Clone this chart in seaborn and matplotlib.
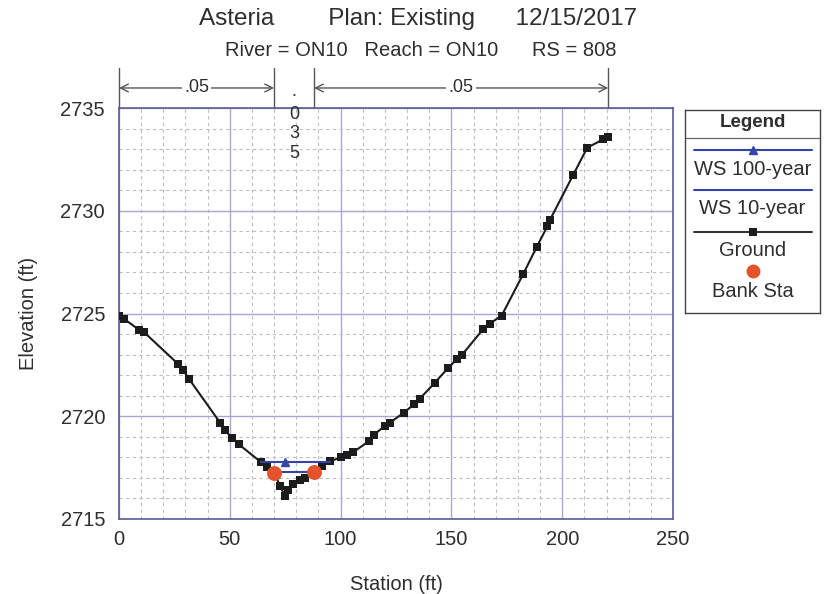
import matplotlib
matplotlib.use("Agg")
import matplotlib.pyplot as plt
import seaborn as sns
import pandas as pd
from matplotlib.ticker import MultipleLocator

# ---------------- data ----------------
title_parts = ["Asteria", "Plan: Existing", "12/15/2017"]
subtitle_parts = ["River = ON10", "Reach = ON10", "RS = 808"]

ground_station = [0.0, 2.3, 9.2, 11.3, 26.5, 29.0, 31.7, 45.6, 47.8, 50.8, 54.0,
                  63.9, 66.6, 70.0, 72.7, 74.8, 76.2, 78.4, 81.7, 84.0, 88.0,
                  91.5, 95.3, 100.3, 102.8, 105.5, 113.0, 115.0, 120.0, 122.3,
                  128.6, 133.1, 135.8, 142.6, 148.6, 152.4, 154.6, 164.4, 167.4,
                  172.7, 182.5, 188.5, 193.3, 194.5, 205.0, 211.3, 218.6, 220.8]
ground_elev = [2724.87, 2724.74, 2724.19, 2724.09, 2722.56, 2722.25, 2721.80,
               2719.69, 2719.33, 2718.96, 2718.64, 2717.78, 2717.55, 2717.23,
               2716.62, 2716.13, 2716.42, 2716.70, 2716.89, 2716.98, 2717.27,
               2717.59, 2717.80, 2718.02, 2718.12, 2718.24, 2718.80, 2719.10,
               2719.53, 2719.69, 2720.18, 2720.58, 2720.86, 2721.64, 2722.36,
               2722.77, 2722.96, 2724.25, 2724.51, 2724.90, 2726.94, 2728.24,
               2729.24, 2729.56, 2731.75, 2733.07, 2733.48, 2733.58]

bank_station = [70.0, 88.0]
bank_elev = [2717.23, 2717.27]

ws100_station = [64.0, 95.3]
ws100_elev = [2717.78, 2717.78]
ws100_marker_station = [75.0]

ws10_station = [69.8, 88.2]
ws10_elev = [2717.27, 2717.27]

roughness_breaks = [0.0, 70.0, 88.0, 220.8]
roughness_values = [".05", ".035", ".05"]

legend_labels = ["WS 100-year", "WS 10-year", "Ground", "Bank Sta"]

# ---------------- style ----------------
sns.set_theme(style="white")
plt.rcParams["font.family"] = ["Liberation Sans", "DejaVu Sans"]
TXT = "#2e2e2e"
WS_BLUE = "#3346a8"
BANK_RED = "#e4532c"
GROUND = "#1c1c1c"
SPINE = "#5c5c96"

fig = plt.figure(figsize=(8.26, 5.94), dpi=100)
ax = fig.add_axes([119 / 826, 1 - 519 / 594, (673 - 119) / 826, (519 - 108) / 594])

ground_df = pd.DataFrame({"station": ground_station, "elev": ground_elev})
bank_df = pd.DataFrame({"station": bank_station, "elev": bank_elev})
ws100_df = pd.DataFrame({"station": ws100_station, "elev": ws100_elev})
ws10_df = pd.DataFrame({"station": ws10_station, "elev": ws10_elev})

# water surfaces
sns.lineplot(data=ws100_df, x="station", y="elev", ax=ax, color=WS_BLUE,
             lw=1.5, zorder=4, estimator=None)
ax.plot(ws100_marker_station, [ws100_elev[0]], marker="^", ms=6,
        color=WS_BLUE, ls="none", zorder=5)
sns.lineplot(data=ws10_df, x="station", y="elev", ax=ax, color=WS_BLUE,
             lw=1.5, zorder=4, estimator=None)

# ground
sns.lineplot(data=ground_df, x="station", y="elev", ax=ax, color=GROUND,
             lw=1.5, marker="s", markersize=6, markeredgewidth=0,
             estimator=None, zorder=3)

# bank stations
sns.scatterplot(data=bank_df, x="station", y="elev", ax=ax, color=BANK_RED,
                s=115, linewidth=0, zorder=6)

# axes
ax.set_xlim(0, 250)
ax.set_ylim(2715, 2735)
ax.xaxis.set_major_locator(MultipleLocator(50))
ax.xaxis.set_minor_locator(MultipleLocator(10))
ax.yaxis.set_major_locator(MultipleLocator(5))
ax.yaxis.set_minor_locator(MultipleLocator(1))
ax.grid(which="major", color="#a7a7d2", lw=1.0, ls="-")
ax.grid(which="minor", color="#bdbdbd", lw=0.8, ls=(0, (3, 3)))
ax.set_axisbelow(True)
for s in ax.spines.values():
    s.set_color(SPINE)
    s.set_linewidth(1.2)
ax.tick_params(axis="x", which="major", direction="inout", length=10, width=1,
               color=SPINE, labelsize=14.5, labelcolor=TXT, pad=3)
ax.tick_params(axis="x", which="minor", direction="inout", length=8, width=1,
               color=SPINE)
ax.tick_params(axis="y", which="major", direction="out", length=8, width=1,
               color=SPINE, labelsize=14.5, labelcolor=TXT, pad=2)
ax.tick_params(axis="y", which="minor", direction="out", length=6, width=1,
               color="#888888")
ax.set_xlabel("Station (ft)", fontsize=14.5, color=TXT, labelpad=19)
ax.set_ylabel("Elevation (ft)", fontsize=14.5, color=TXT, labelpad=16)

# roughness annotations above the plot
xt = ax.get_xaxis_transform()
for b in roughness_breaks:
    ax.plot([b, b], [1.0, 1.097], transform=xt, color="#555555", lw=1.0,
            clip_on=False)
y_arrow = 1.0487
for i, val in enumerate(roughness_values):
    x0, x1 = roughness_breaks[i], roughness_breaks[i + 1]
    mid = (x0 + x1) / 2
    if x1 - x0 > 30:
        ax.annotate("", xy=(x0, y_arrow), xytext=(x1, y_arrow), xycoords=xt,
                    textcoords=xt,
                    arrowprops=dict(arrowstyle="<->", color="#555555", lw=1.0,
                                    shrinkA=0, shrinkB=0, mutation_scale=14),
                    annotation_clip=False)
        ax.text(mid, y_arrow, val, transform=xt, ha="center", va="center",
                fontsize=13, color=TXT,
                bbox=dict(facecolor="white", edgecolor="none", pad=1.5))
    else:
        ys = [1.029, 0.974, 0.927, 0.879]
        for ch, yy in zip(val, ys):
            ax.text(mid, yy, ch, transform=xt, ha="center", va="baseline",
                    fontsize=13, color=TXT, zorder=7)

# titles
fig.text(418 / 826, 1 - 19 / 594,
         title_parts[0] + " " * 8 + title_parts[1] + " " * 6 + title_parts[2],
         ha="center", va="center", fontsize=17.5, color=TXT)
fig.text(421 / 826, 1 - 50 / 594,
         subtitle_parts[0] + "   " + subtitle_parts[1] + "      " + subtitle_parts[2],
         ha="center", va="center", fontsize=14.5, color=TXT)

# legend panel
lx0, lx1, ly0, ly1 = 685, 820, 110, 313
lax = fig.add_axes([lx0 / 826, 1 - ly1 / 594, (lx1 - lx0) / 826, (ly1 - ly0) / 594])
lax.set_xlim(lx0, lx1)
lax.set_ylim(ly1, ly0)
lax.set_xticks([])
lax.set_yticks([])
for s in lax.spines.values():
    s.set_color("#444444")
    s.set_linewidth(1.0)
mx = (lx0 + lx1) / 2
lax.text(mx, 123, "Legend", ha="center", va="center", fontsize=13.5,
         fontweight="bold", color=TXT)
lax.plot([lx0, lx1], [138, 138], color="#666666", lw=0.9)
la, lb = 694, 812
lax.plot([la, lb], [150.5, 150.5], color=WS_BLUE, lw=1.5)
lax.plot([mx], [150.5], marker="^", ms=6, color=WS_BLUE)
lax.text(mx, 170, legend_labels[0], ha="center", va="center", fontsize=14.5, color=TXT)
lax.plot([la, lb], [190.5, 190.5], color=WS_BLUE, lw=1.5)
lax.text(mx, 209, legend_labels[1], ha="center", va="center", fontsize=14.5, color=TXT)
lax.plot([la, lb], [232, 232], color=GROUND, lw=1.3)
lax.plot([mx], [232], marker="s", ms=6, color=GROUND, mew=0)
lax.text(mx, 251, legend_labels[2], ha="center", va="center", fontsize=14.5, color=TXT)
lax.plot([mx], [271], marker="o", ms=10, color=BANK_RED, mew=0)
lax.text(mx, 292, legend_labels[3], ha="center", va="center", fontsize=14.5, color=TXT)

fig.savefig("out.png", dpi=100, facecolor="white")
